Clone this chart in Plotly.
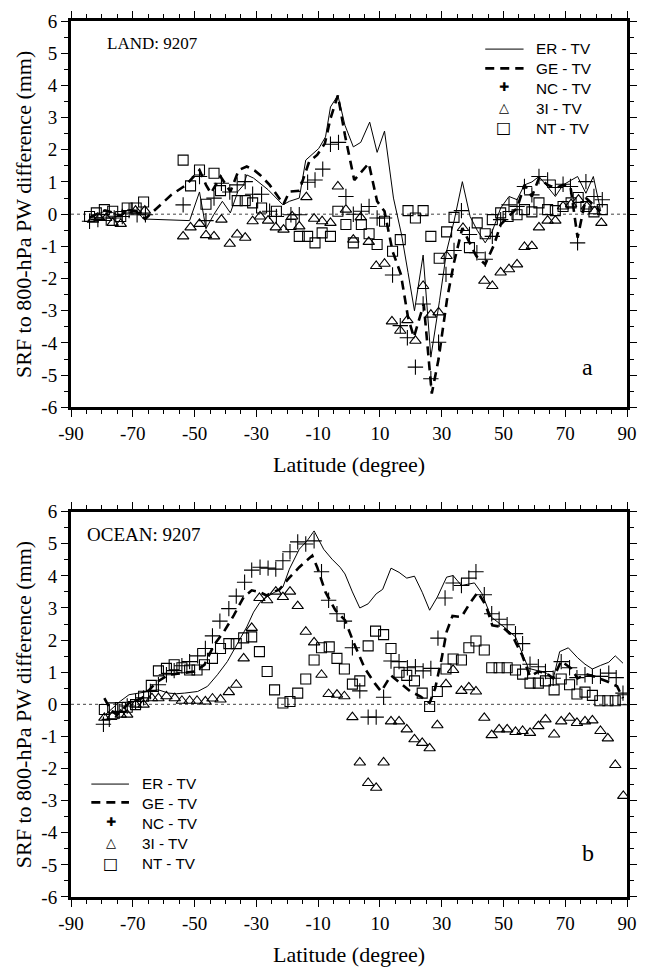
import plotly.graph_objects as go

# ---------------- Panel a (LAND) ----------------
a_er_lat = [-84, -81.5, -79, -76.5, -74, -71.5, -69, -66.5, -51.6, -48.4, -46.3, -43.7, -41, -38.4, -36, -34.1, -33.1, -30.9,
            -26.2, -21.4, -19.3, -16.1, -14, -9.8, -7.6, -6, -3.6, -1.3, 1.4, 3.8, 6.7, 9.1, 11.5, 14.4, 17, 19.1, 21.2,
            24, 26.5, 29.3, 31.6, 34, 36.7, 39.2, 41.5, 44.1, 46.4, 49.1, 51.8, 54.4, 56.8, 59.2, 61.5, 64.3, 66.8, 69.3,
            71.7, 74, 76.7, 79.1, 81.4]
a_er_val = [-0.12, -0.02, 0.1, 0.05, -0.08, 0.15, 0.12, -0.15, -0.2, 0.69, -0.45, 0.0, 0.4, 0.04, 0.7, 0.91, 1.22, 1.12,
            0.76, 0.29, 0.4, 0.5, 1.68, 2.04, 2.4, 3.33, 3.69, 2.76, 2.09, 2.23, 2.86, 1.92, 2.58, 0.5, -0.63, -1.81, -3.0,
            -1.27, -4.44, -2.69, -1.15, -0.22, 1.01, -0.07, -0.5, -0.89, -0.53, 0.19, 0.55, 0.45, 0.91, 1.0, 1.17, 0.85, 0.55,
            0.91, 1.05, 1.17, 0.65, 1.17, 0.14]

a_ge_lat = [-84, -81.5, -79, -76.5, -74, -71.5, -69, -66, -61.7, -57.5, -52.7, -48.4, -46.3, -44.7, -41.6, -38.4, -35.7,
            -33.1, -30.5, -28.8, -25.7, -21.2, -19.3, -16.1, -12.9, -10.3, -7.8, -6, -3.6, -1.3, 1.7, 4, 6.4, 9.1, 11.5,
            14.1, 16.8, 19.1, 21, 24.2, 26.8, 29, 31.8, 34, 36.7, 38.8, 41.2, 44.1, 47, 49.1, 51.8, 54.4, 56.8, 59.2, 61.5,
            64.3, 66.8, 69.3, 71.7, 74, 76.7, 79.3, 81.4]
a_ge_val = [-0.1, 0.0, 0.12, 0.05, -0.05, 0.12, 0.1, -0.15, 0.24, 0.6, 0.91, 1.37, 0.91, 0.65, 1.17, 0.7, 1.37,
            1.48, 1.35, 1.22, 0.91, 0.31, 0.7, 0.73, 1.63, 1.84, 2.2, 2.97, 3.69, 2.45, 1.06, 1.3, 1.58, 0.4, 0.09,
            -1.15, -1.87, -3.2, -3.82, -2.79, -5.57, -4.5, -2.6, -1.5, -0.43, -0.84, -1.3, -1.56, -0.94, -0.32, -0.07, 0.19,
            0.91, 0.55, 1.12, 0.91, 0.81, 0.91, 0.86, -0.73, 0.5, 0.29, 0.09]

a_nc_lat = [-84, -81.3, -78.6, -76, -73.4, -71.2, -68.6, -65.9, -53.7, -48.4, -46.3, -43.7, -41.3, -38.6, -36.2, -33.6,
            -31.2, -28.3, -25.7, -23.5, -18.8, -16.1, -13.4, -11, -8.5, -6, -3.4, -1, 1.4, 4, 6.5, 9.1, 11.5, 14.1, 16.6,
            18.9, 21.5, 24, 26.5, 29, 31.4, 34, 36.4, 39, 41.4, 44.1, 46.4, 49.1, 51.8, 54.4, 56.8, 59.2, 61.5, 64.3, 66.8,
            69.3, 71.7, 74, 76.7, 79.3, 82]
a_nc_val = [-0.22, -0.17, -0.12, -0.12, -0.07, 0.11, -0.02, -0.02, 0.29, 1.17, -0.2, 0.5, 0.96, 0.69, 0.91, 1.01,
            0.62, 0.62, 0.09, -0.07, -0.02, -0.02, 0.99, 1.06, 1.4, 2.17, 2.23, 0.55, 0.0, 0.09, 0.24, -0.12, -0.12, -1.89,
            -3.46, -3.84, -4.75, -2.79, -5.11, -3.98, -1.87, -1.13, 0.11, -0.63, -1.2, -1.4, -0.69, -0.17, 0.29, 0.24, 0.86,
            0.6, 1.17, 1.06, 0.83, 0.93, 0.86, -0.89, 1.01, 0.55, 0.45]

a_3i_lat = [-82.9, -80.8, -78.6, -76.5, -73.9, -69.1, -66.1, -53.7, -51.3, -48.4, -46.3, -43.7, -41.3, -38.6, -36.2, -33.6,
            -31.2, -28.8, -26.2, -23.7, -21.2, -18.4, -16.1, -13.8, -11.3, -8.7, -6, -3.6, -1, 1.4, 3.8, 6.4, 8.8, 11.5,
            13.9, 16.6, 18.9, 21.5, 24, 26.5, 29, 31.6, 36.9, 43.8, 46.4, 49.1, 51.8, 54.4, 56.8, 59.2, 61.5, 64.3, 66.8,
            69.3, 71.9, 74.3, 77, 79.5, 81.7]
a_3i_val = [-0.17, -0.12, -0.12, -0.27, -0.3, 0.11, 0.11, -0.69, -0.41, -0.3, -0.65, -0.69, -0.17, -0.92, -0.63, -0.73,
            -0.22, -0.07, -0.2, -0.41, -0.48, -0.07, -0.38, 0.53, -0.14, -0.22, -0.27, 0.86, 0.14, -0.79, -0.1, -0.86, -1.61,
            -1.54, -3.33, -3.62, -3.29, -3.93, -2.23, -3.12, -3.05, -1.3, -0.43, -2.07, -2.23, -1.81, -1.71, -1.56, -1.02,
            -0.99, -0.41, -0.2, -0.2, 0.24, 0.31, 0.45, 0.24, 0.09, -0.27]

a_nt_lat = [-84, -81.8, -79.2, -76.5, -73.9, -71.8, -68.9, -66.5, -53.7, -51.3, -48.4, -46.3, -43.7, -41.6, -36.2, -33.6,
            -31.2, -28.3, -23.5, -18.8, -16.1, -13.4, -11, -8.7, -6, -3.6, -1, 1.4, 4, 6.5, 9.1, 11.5, 14.1, 16.6, 19.1,
            21.5, 24, 26.5, 29.2, 31.6, 34, 39, 41.5, 44.1, 46.4, 49.1, 51.5, 54.4, 56.8, 59.2, 61.5, 64.3, 66.8, 69.3,
            71.9, 74.2, 76.7, 79.3, 82]
a_nt_val = [-0.07, 0.04, 0.14, 0.09, -0.07, 0.19, 0.19, 0.38, 1.68, 0.88, 1.37, 0.31, 1.27, 0.73, 0.42, 0.42,
            0.35, 0.19, 0.09, -0.32, -0.69, -0.69, -0.89, -0.58, -0.69, 0.09, -0.32, -0.89, -0.32, -0.61, -0.94, -0.22,
            -1.15, -0.79, 0.11, -0.12, 0.11, -0.69, -1.37, -0.55, -0.1, -1.04, -0.27, -0.61, -0.17, 0.04, -0.07, -0.02,
            0.14, 0.07, 0.35, 0.14, 0.11, 0.24, 0.35, 0.52, 0.24, 0.07, 0.14]

# ---------------- Panel b (OCEAN) ----------------
b_er_lat = [-79.2, -76.5, -74, -71.2, -68, -64.9, -61.7, -58.5, -55.8, -53.2, -49, -45.8, -42.6, -39.4, -36.2, -33.1,
            -30.9, -28.8, -26.5, -24.1, -21.4, -19.3, -16.1, -13.5, -11.3, -8.2, -5.5, -2.9, -1.3, 1.1, 3.5, 6.2, 8.8,
            10.9, 13.6, 16.2, 18.7, 21.2, 23.7, 26.1, 28.6, 31.6, 33.7, 36.4, 38.8, 40.6, 43.1, 46, 48.3, 50.2, 53.9, 56,
            58.1, 61, 63.9, 66.1, 68.2, 71, 74, 76.4, 78.8, 81.4, 84.1, 86.2, 88.7]
b_er_val = [-0.35, -0.1, 0.1, 0.3, 0.35, 0.4, 0.45, 0.35, 0.33, 0.35, 0.4, 0.56, 0.92, 1.33, 1.89, 2.41,
            2.87, 3.18, 3.35, 3.49, 3.65, 4.21, 4.83, 5.1, 5.4, 4.83, 4.52, 4.27, 4.06, 3.5, 3.0, 3.13, 3.44,
            3.58, 4.24, 4.11, 3.93, 3.99, 3.49, 2.93, 3.34, 3.96, 4.01, 3.7, 3.75, 3.78, 3.44, 2.72, 2.55, 2.41, 2.1, 1.6,
            1.12, 1.05, 0.97, 0.79, 1.64, 1.76, 1.45, 1.25, 1.1, 1.21, 1.31, 1.51, 1.28]

b_ge_lat = [-79.2, -77, -75, -71.2, -67, -62.7, -58.5, -54.3, -50, -46.8, -43.7, -40.5, -37.3, -34.1, -31.5, -29, -26.7,
            -22.5, -19.8, -16.1, -13.5, -11.9, -10.3, -7.6, -4.4, -1.3, 1.4, 5.1, 8.3, 10.4, 13.6, 16.8, 19.9, 23.1, 26.1,
            27.9, 30, 31.6, 33.5, 36.4, 39, 41.7, 44.3, 46.4, 49.6, 52.8, 56, 58.6, 61.3, 63.9, 66.1, 68.7, 71.9, 74, 76.7,
            79.3, 83.6, 86.8, 88.7]
b_ge_val = [0.19, -0.2, -0.32, 0.04, 0.19, 0.66, 0.92, 0.97, 1.02, 1.23, 1.85, 2.26, 2.77, 3.34, 3.55, 3.5, 3.39,
            3.58, 3.89, 4.27, 4.5, 4.63, 4.27, 3.49, 2.93, 2.62, 1.95, 1.12, 0.66, 0.4, 0.9, 0.66, 0.4, 0.25, 0.04,
            0.5, 1.43, 2.26, 2.75, 2.72, 3.13, 3.49, 3.08, 2.46, 2.41, 2.15, 1.54, 0.87, 1.02, 0.97, 0.81, 1.35, 1.12, 0.81,
            0.94, 0.87, 0.71, 0.56, 0.19]

b_nc_lat = [-79.5, -77.6, -74.4, -71.8, -69.1, -66.5, -64.3, -61.7, -59.1, -56.6, -54.1, -51.6, -49, -46.5, -44.2, -41.8,
            -38.9, -36.5, -33.8, -31.5, -28.8, -26.2, -23.7, -21.4, -19.1, -16.6, -14, -11.3, -8.9, -6.6, -3.9, -1.5, 1.1,
            3.5, 6.2, 8.8, 11.2, 13.6, 16.2, 18.9, 21.5, 24, 26.5, 28.8, 31.1, 33.7, 36.4, 38.8, 41.1, 43.8, 46.2, 48.6,
            51.2, 53.9, 56.2, 58.6, 61.3, 63.6, 66.1, 68.7, 71.4, 73.8, 76.4, 78.8, 81.4, 84.1, 86.5, 88.7]
b_nc_val = [-0.62, -0.47, -0.22, -0.05, 0.09, 0.2, 0.4, 0.61, 0.92, 1.05, 1.2, 1.33, 1.51, 1.74, 2.13, 2.59,
            2.98, 3.37, 3.8, 4.18, 4.27, 4.24, 4.21, 4.47, 4.75, 5.06, 4.99, 5.09, 4.13, 3.24, 2.82, 2.59, 1.76,
            0.42, -0.4, -0.4, 0.22, 1.35, 1.33, 1.14, 1.17, 1.04, 1.12, 2.06, 3.31, 3.78, 3.7, 3.93, 4.13, 3.41, 2.82, 2.65,
            2.48, 2.2, 1.89, 1.25, 1.17, 1.02, 0.81, 1.33, 1.14, 0.83, 0.92, 0.87, 0.87, 0.97, 0.83, 0.35]

b_3i_lat = [-79.2, -76.5, -73.9, -71.8, -69.1, -66.5, -63.8, -61.7, -59.1, -56.4, -54.1, -51.6, -49.2, -46.5, -44.2,
            -41.6, -38.9, -36.5, -34.1, -31.5, -29, -26.5, -23.7, -21.4, -19.1, -16.6, -14, -11.3, -8.9, -6.6, -3.9, -1.5,
            1.1, 3.5, 6.2, 8.8, 11.2, 13.6, 16.2, 18.7, 21.2, 23.7, 26.1, 28.6, 31.4, 33.7, 36.4, 38.8, 41.1, 43.8, 46.2,
            48.6, 51.2, 53.9, 56.2, 58.6, 61.3, 63.6, 66.4, 68.7, 71.4, 73.8, 76.4, 78.8, 81.4, 83.8, 86.2, 88.8]
b_3i_val = [-0.42, -0.37, -0.32, -0.32, -0.01, -0.01, 0.19, 0.19, 0.25, 0.19, 0.11, 0.11, 0.11, 0.09, 0.18,
            0.15, 0.38, 0.61, 1.43, 2.38, 3.31, 3.24, 3.51, 3.34, 3.51, 3.06, 2.26, 1.93, 0.92, 0.32, 0.3, 0.25,
            -0.4, -1.81, -2.45, -2.6, -1.81, -0.53, -0.53, -0.78, -1.09, -1.2, -1.37, -0.65, 0.63, 1.07, 0.42, 0.53, 0.4,
            -0.42, -0.96, -0.78, -0.78, -0.86, -0.83, -0.89, -0.68, -0.47, -0.94, -0.53, -0.42, -0.58, -0.53, -0.5, -0.83,
            -1.06, -1.89, -2.85]

b_nt_lat = [-79.2, -76.5, -74, -71.8, -69.1, -66.5, -64, -61.7, -59.1, -56.6, -54.1, -51.6, -49.2, -46.8, -44.2, -41.6,
            -38.9, -36.5, -34.1, -31.5, -29, -26.5, -24.1, -21.4, -19.1, -16.6, -14, -11.3, -8.9, -6.4, -3.9, -1.5, 1.1,
            3.5, 6.2, 8.6, 11.2, 13.6, 16.2, 18.7, 21.2, 23.7, 26.1, 28.6, 31.4, 33.7, 36.4, 38.8, 41.1, 43.8, 46.2, 48.6,
            51.2, 53.9, 56.2, 58.6, 61.3, 63.6, 66.4, 68.7, 71.4, 73.8, 76.4, 78.8, 81.2, 83.8, 86.2, 88.7]
b_nt_val = [-0.16, -0.11, -0.1, -0.09, -0.01, 0.25, 0.59, 1.04, 1.12, 1.23, 1.14, 1.07, 1.07, 1.23, 1.43, 1.74,
            1.89, 1.89, 2.07, 2.1, 1.64, 1.02, 0.45, 0.04, 0.09, 0.35, 0.79, 1.38, 1.76, 1.79, 1.43, 1.1, 0.63,
            0.73, 1.82, 2.28, 2.17, 1.74, 1.0, 0.9, 0.73, 0.35, -0.07, 0.4, 1.1, 1.41, 1.38, 1.76, 1.97, 1.69, 1.14, 1.14,
            1.14, 1.07, 0.94, 0.66, 0.66, 0.73, 0.45, 0.79, 0.61, 0.32, 0.38, 0.28, 0.11, 0.11, 0.11, 0.14]

x_ticks = [-90, -70, -50, -30, -10, 10, 30, 50, 70, 90]
x_tick_text = ["-90", "-70", "-50", "-30", "-10", "10", "30", "50", "70", "90"]
y_ticks = [-6, -5, -4, -3, -2, -1, 0, 1, 2, 3, 4, 5, 6]
y_tick_text = ["-6", "-5", "-4", "-3", "-2", "-1", "0", "1", "2", "3", "4", "5", "6"]
series_names = ["ER - TV", "GE - TV", "NC - TV", "3I - TV", "NT - TV"]
panel_labels = ["LAND: 9207", "OCEAN: 9207"]
panel_letters = ["a", "b"]
x_title = "Latitude (degree)"
y_title = "SRF to 800-hPa PW difference (mm)"

SERIF = "Liberation Serif, Times New Roman, serif"
SANS = "Liberation Sans, Arial, sans-serif"

fig = go.Figure()


def add_panel(xa, ya, er, ge, nc, i3, nt):
    fig.add_trace(go.Scatter(x=er[0], y=er[1], mode="lines", xaxis=xa, yaxis=ya, showlegend=False,
                             line=dict(color="black", width=1)))
    fig.add_trace(go.Scatter(x=ge[0], y=ge[1], mode="lines", xaxis=xa, yaxis=ya, showlegend=False,
                             line=dict(color="black", width=2.6, dash="9px,6px")))
    fig.add_trace(go.Scatter(x=nc[0], y=nc[1], mode="markers", xaxis=xa, yaxis=ya, showlegend=False,
                             marker=dict(symbol="cross-thin-open", size=11, color="black",
                                         line=dict(color="black", width=1.1))))
    fig.add_trace(go.Scatter(x=i3[0], y=i3[1], mode="markers", xaxis=xa, yaxis=ya, showlegend=False,
                             marker=dict(symbol="triangle-up-open", size=10, color="black",
                                         line=dict(color="black", width=1.1))))
    fig.add_trace(go.Scatter(x=nt[0], y=nt[1], mode="markers", xaxis=xa, yaxis=ya, showlegend=False,
                             marker=dict(symbol="square-open", size=10, color="black",
                                         line=dict(color="black", width=1.1))))


add_panel("x", "y", (a_er_lat, a_er_val), (a_ge_lat, a_ge_val), (a_nc_lat, a_nc_val),
          (a_3i_lat, a_3i_val), (a_nt_lat, a_nt_val))
add_panel("x2", "y2", (b_er_lat, b_er_val), (b_ge_lat, b_ge_val), (b_nc_lat, b_nc_val),
          (b_3i_lat, b_3i_val), (b_nt_lat, b_nt_val))

W, H = 648, 969
ML, MR, MT, MB = 71, 11, 15, 72
PH = H - MT - MB


def py(p):
    return (H - MB - p) / PH


def px(p):
    return (p - ML) / (W - ML - MR)


xaxis_common = dict(range=[-90, 90], tickvals=x_ticks, ticktext=x_tick_text, showline=True, linewidth=3,
                    linecolor="black", mirror="ticks", ticks="outside", ticklen=7, tickwidth=1.3, tickcolor="black",
                    minor=dict(dtick=5, tick0=0, ticklen=4, tickwidth=1, ticks="outside", tickcolor="black", showgrid=False),
                    showgrid=False, zeroline=False, tickfont=dict(family=SERIF, size=19, color="black"))
yaxis_common = dict(range=[-6, 6], tickvals=y_ticks, ticktext=y_tick_text, showline=True, linewidth=3,
                    linecolor="black", mirror="ticks", ticks="outside", ticklen=7, tickwidth=1.3, tickcolor="black",
                    minor=dict(dtick=0.5, tick0=0, ticklen=4, tickwidth=1, ticks="outside", tickcolor="black", showgrid=False),
                    showgrid=False, zeroline=False, tickfont=dict(family=SERIF, size=19, color="black"))

fig.update_layout(
    width=W, height=H, margin=dict(l=ML, r=MR, t=MT, b=MB),
    paper_bgcolor="white", plot_bgcolor="white", showlegend=False,
    xaxis=dict(xaxis_common, domain=[0, 1], anchor="y"),
    yaxis=dict(yaxis_common, domain=[py(404), 1], anchor="x"),
    xaxis2=dict(xaxis_common, domain=[0, 1], anchor="y2"),
    yaxis2=dict(yaxis_common, domain=[0, py(509)], anchor="x2"),
)

shapes = []
for yr in ["y", "y2"]:
    xr = "x domain" if yr == "y" else "x2 domain"
    shapes.append(dict(type="line", xref=xr, yref=yr, x0=0, x1=1, y0=0, y1=0,
                       line=dict(color="#444", width=1, dash="dot"), layer="below"))

annotations = []
# axis titles
for cy, ty in [(209.5, 462), (703, 955)]:
    annotations.append(dict(text=y_title, xref="paper", yref="paper", x=px(22), y=py(cy), textangle=-90,
                            showarrow=False, xanchor="center", yanchor="middle",
                            font=dict(family=SERIF, size=22, color="black")))
    annotations.append(dict(text=x_title, xref="paper", yref="paper", x=0.5, y=py(ty),
                            showarrow=False, xanchor="center", yanchor="middle",
                            font=dict(family=SERIF, size=22, color="black")))
# panel labels
annotations.append(dict(text=panel_labels[0], xref="paper", yref="paper", x=px(106), y=py(38), showarrow=False,
                        xanchor="left", yanchor="middle", font=dict(family=SERIF, size=17, color="black")))
annotations.append(dict(text=panel_labels[1], xref="paper", yref="paper", x=px(85), y=py(532), showarrow=False,
                        xanchor="left", yanchor="middle", font=dict(family=SERIF, size=19, color="black")))
annotations.append(dict(text=panel_letters[0], xref="paper", yref="paper", x=px(597), y=py(363), showarrow=False,
                        xanchor="center", yanchor="middle", font=dict(family=SERIF, size=24, color="black")))
annotations.append(dict(text=panel_letters[1], xref="paper", yref="paper", x=px(597), y=py(853), showarrow=False,
                        xanchor="center", yanchor="middle", font=dict(family=SERIF, size=24, color="black")))


# legends (manual, to match the tight spacing of the original)
def add_legend(line_x0, line_x1, sym_x, text_x, ys):
    shapes.append(dict(type="line", xref="paper", yref="paper", x0=px(line_x0), x1=px(line_x1), y0=py(ys[0]), y1=py(ys[0]),
                       line=dict(color="black", width=1)))
    shapes.append(dict(type="line", xref="paper", yref="paper", x0=px(line_x0), x1=px(line_x1), y0=py(ys[1]), y1=py(ys[1]),
                       line=dict(color="black", width=2.6, dash="9px,6px")))
    glyphs = [("\u271a", 12), ("\u25b3", 13), ("\u25a1", 16)]
    for (g, s), yy in zip(glyphs, ys[2:]):
        annotations.append(dict(text=g, xref="paper", yref="paper", x=px(sym_x), y=py(yy), showarrow=False,
                                xanchor="center", yanchor="middle", font=dict(family="DejaVu Sans", size=s, color="black")))
    annotations.append(dict(text="<br>".join(series_names), xref="paper", yref="paper", x=px(text_x),
                            y=py((ys[0] + ys[-1]) / 2), showarrow=False, align="left",
                            xanchor="left", yanchor="middle", font=dict(family=SANS, size=15.3, color="black")))


add_legend(492.7, 531.7, 511.7, 542, [43.3, 62.7, 81.7, 101.7, 122.7])
add_legend(91.7, 130, 111.7, 141, [783.3, 801.7, 821.7, 841.7, 863])

fig.update_layout(shapes=shapes, annotations=annotations)
fig.write_html("out.html")
